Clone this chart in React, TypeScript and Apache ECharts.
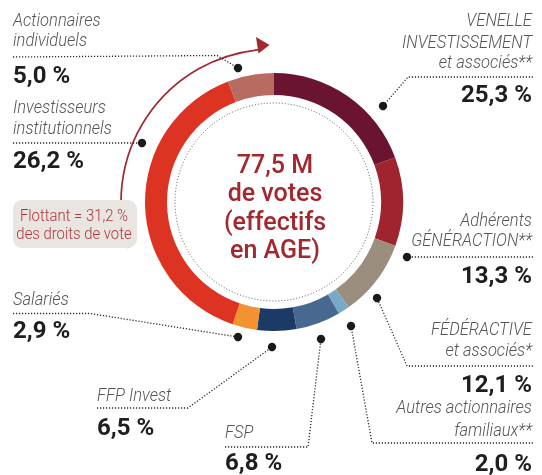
import React, { useEffect, useRef } from 'react';
import * as echarts from 'echarts';

// ---- data ----
const segmentNames: string[][] = [
  ['VENELLE', 'INVESTISSEMENT', 'et associés**'],
  ['Adhérents', 'GÉNÉRACTION**'],
  ['FÉDÉRACTIVE', 'et associés*'],
  ['Autres actionnaires', 'familiaux**'],
  ['FSP'],
  ['FFP Invest'],
  ['Salariés'],
  ['Investisseurs', 'institutionnels'],
  ['Actionnaires', 'individuels'],
];
// voting rights shown in the labels (%)
const votingRights = [25.3, 13.3, 12.1, 2.0, 6.8, 6.5, 2.9, 26.2, 5.0];
// arc sizes as drawn in the ring (% of the circle)
const ringShares = [19.4, 11.1, 9.7, 1.4, 5.6, 4.9, 3.1, 39.0, 5.8];
const segmentColors = ['#6a1431', '#9f2430', '#9c8e7f', '#7aa9c8', '#48698f', '#1b3a66', '#f39230', '#dd3323', '#b86b61'];
const centerLines = ['77,5 M', 'de votes', '(effectifs', 'en AGE)'];
const floatLines = ['Flottant = 31,2 %', 'des droits de vote'];

// ---- layout (positions only) ----
const CX = 274;
const CY = 202;
type Lay = { align: 'left' | 'right'; x: number; nameY: number[]; pctY: number; leader: number[][] };
const layout: Lay[] = [
  { align: 'right', x: 532, nameY: [20, 41.5, 62], pctY: 93.5, leader: [[533, 77], [408, 77], [383, 106]] },
  { align: 'right', x: 532, nameY: [220, 240], pctY: 275, leader: [[533, 257], [407, 257]] },
  { align: 'right', x: 532, nameY: [328.5, 350], pctY: 383.5, leader: [[533, 366], [407, 366], [377, 298]] },
  { align: 'right', x: 532, nameY: [406.5, 429.5], pctY: 462.5, leader: [[533, 443], [372, 443], [351, 326]] },
  { align: 'left', x: 225, nameY: [431.5], pctY: 461.5, leader: [[225, 447], [308, 447], [321, 339]] },
  { align: 'left', x: 97, nameY: [395], pctY: 427, leader: [[97, 408], [188, 408], [272, 347]] },
  { align: 'left', x: 13, nameY: [298.5], pctY: 330, leader: [[13, 313.5], [90, 313.5], [238, 337]] },
  { align: 'left', x: 13, nameY: [106.5, 128], pctY: 160, leader: [[13, 143], [142, 143]] },
  { align: 'left', x: 13, nameY: [20, 39.5], pctY: 74.5, leader: [[13, 57], [217, 55.5], [238, 68]] },
];

const LABEL_FONT = 'Roboto, sans-serif';
const PCT_FONT = 'Roboto, "Liberation Sans", sans-serif';
const RED = '#a3272f';

const fmt = (v: number) => v.toFixed(1).replace('.', ',') + ' %';

export default function App() {
  const ref = useRef<HTMLDivElement>(null);
  useEffect(() => {
    if (!ref.current) return;
    const chart = echarts.init(ref.current, undefined, { renderer: 'svg' });
    const g: any[] = [];

    // inner dotted circle
    g.push({
      type: 'circle', shape: { cx: CX, cy: CY, r: 99 }, silent: true,
      style: { fill: 'none', stroke: '#555', lineWidth: 1, lineDash: [1, 2] },
    });

    // arrow arc
    const d2r = Math.PI / 180;
    g.push({
      type: 'arc', shape: { cx: CX, cy: CY, r: 153, startAngle: 162.5 * d2r, endAngle: 265 * d2r, clockwise: true },
      style: { fill: 'none', stroke: RED, lineWidth: 1.7 }, silent: true,
    });
    g.push({
      type: 'polygon', shape: { points: [[256, 37], [269.5, 45], [258.5, 53.5]] },
      style: { fill: RED }, silent: true,
    });

    // float box
    g.push({
      type: 'rect', shape: { x: 13, y: 200, width: 124, height: 48, r: 9 },
      style: { fill: '#e9e5e0' }, silent: true,
    });
    floatLines.forEach((t, i) => {
      g.push({
        type: 'text', x: 74, y: i === 0 ? 216 : 234, scaleX: 0.93, silent: true,
        style: { text: t, fill: '#b0363e', font: `300 16px ${LABEL_FONT}`, align: 'center', verticalAlign: 'middle' },
      });
    });

    // center text
    centerLines.forEach((t, i) => {
      g.push({
        type: 'text', x: 275, y: 164 + i * 28.6, silent: true,
        style: { text: t, fill: RED, font: `500 25px ${PCT_FONT}`, align: 'center', verticalAlign: 'middle' },
      });
    });

    // labels
    layout.forEach((l, i) => {
      segmentNames[i].forEach((t, j) => {
        g.push({
          type: 'text', x: l.x, y: l.nameY[j], scaleX: 0.92, silent: true,
          style: { text: t, fill: '#555555', font: `italic 300 18px ${LABEL_FONT}`, align: l.align, verticalAlign: 'middle' },
        });
      });
      g.push({
        type: 'text', x: l.x, y: l.pctY, silent: true,
        style: { text: fmt(votingRights[i]), fill: '#1e1e1e', font: `bold 24px ${PCT_FONT}`, align: l.align, verticalAlign: 'middle' },
      });
      g.push({
        type: 'polyline', shape: { points: l.leader }, silent: true,
        style: { fill: 'none', stroke: '#2a2a2a', lineWidth: 1.3, lineDash: [1.2, 1.8] },
      });
      const dot = l.leader[l.leader.length - 1];
      g.push({
        type: 'circle', shape: { cx: dot[0], cy: dot[1], r: 4.2 }, silent: true,
        style: { fill: '#1a1a1a' },
      });
    });

    chart.setOption({
      animation: false,
      series: [
        {
          type: 'pie',
          center: [CX, CY],
          radius: [107, 129],
          startAngle: 90,
          clockwise: true,
          silent: true,
          label: { show: false },
          labelLine: { show: false },
          itemStyle: { borderWidth: 0 },
          data: ringShares.map((v, i) => ({
            value: v,
            name: segmentNames[i].join(' '),
            itemStyle: { color: segmentColors[i] },
          })),
        },
      ],
      graphic: g,
    });
    return () => chart.dispose();
  }, []);
  return <div ref={ref} style={{ position: 'fixed', left: 0, top: 0, width: 542, height: 475 }} />;
}
